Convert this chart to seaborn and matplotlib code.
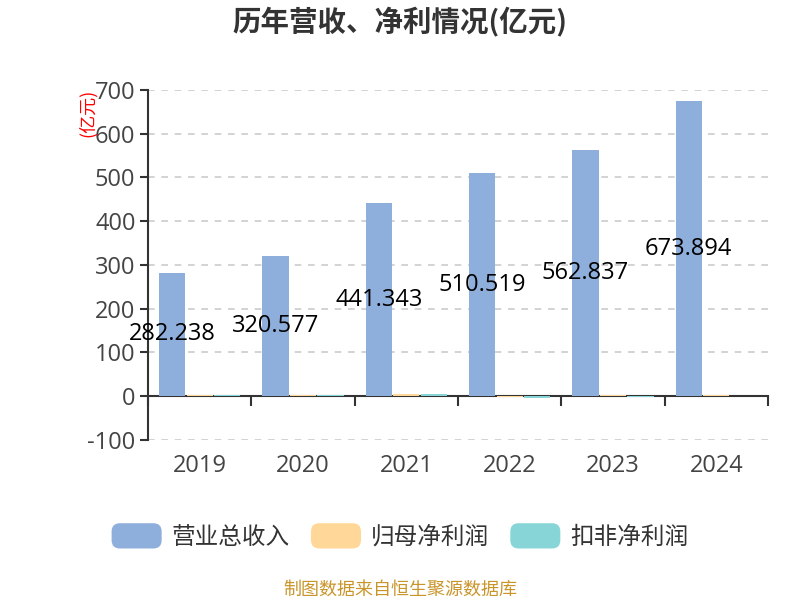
import numpy as np
import pandas as pd
import matplotlib
matplotlib.use("Agg")
import matplotlib.pyplot as plt
import matplotlib.transforms as mtransforms
from matplotlib.patches import Patch, FancyBboxPatch
from matplotlib.legend_handler import HandlerPatch
import seaborn as sns

# --- données (亿元) ---
years = ["2019", "2020", "2021", "2022", "2023", "2024"]
revenue = [282.238, 320.577, 441.343, 510.519, 562.837, 673.894]
net_profit = [3.0, 2.8, 5.0, -2.5, 3.0, 3.2]
net_profit_ded = [2.4, 2.2, 4.5, -3.5, -1.0, 0.4]

series_names = ["营业总收入", "归母净利润", "扣非净利润"]
colors = ["#8eaedb", "#ffd899", "#88d5d8"]

df = pd.DataFrame({
    "year": years * 3,
    "value": revenue + net_profit + net_profit_ded,
    "series": [s for s in series_names for _ in years],
})

sns.set_theme(style="white")
plt.rcParams['font.family'] = ['Open Sans', 'Noto Sans CJK SC', 'DejaVu Sans']
plt.rcParams['axes.unicode_minus'] = False
CJK = ['Noto Sans CJK SC', 'DejaVu Sans']

fig = plt.figure(figsize=(8, 6), dpi=100)
ax = fig.add_axes([0.185, 0.2667, 0.775, 0.5833])

sns.barplot(data=df, x="year", y="value", hue="series", order=years,
            hue_order=series_names, palette=colors, saturation=1,
            width=0.8, gap=0.05, legend=False, ax=ax, zorder=3,
            linewidth=0, edgecolor='none')

ax.set_xlim(-0.5, len(years) - 0.5)
ax.set_ylim(-100, 700)
ax.set_yticks(np.arange(-100, 701, 100))
ax.tick_params(axis='y', labelsize=17, colors='#333333', length=6, width=1.5,
               direction='out', pad=3, left=True)
for lab in ax.get_yticklabels():
    lab.set_color('#444444')

ax.yaxis.grid(True, color='#cccccc', linestyle=(0, (4, 4)), linewidth=1.2)
ax.set_axisbelow(True)

# axes / spines
for s in ['top', 'right']:
    ax.spines[s].set_visible(False)
ax.spines['left'].set_color('#333333')
ax.spines['left'].set_linewidth(1.5)
ax.spines['bottom'].set_position(('data', 0))
ax.spines['bottom'].set_color('#333333')
ax.spines['bottom'].set_linewidth(1.5)
ax.spines['bottom'].set_zorder(2)

# x ticks at category boundaries, labels below the plot
ax.set_xticks(np.arange(-0.5, len(years), 1.0))
ax.set_xticklabels([])
ax.tick_params(axis='x', length=7, width=1.5, colors='#333333', direction='out', bottom=True)
trans = mtransforms.blended_transform_factory(ax.transData, ax.transAxes)
for i, y in enumerate(years):
    ax.text(i, -0.075, y, transform=trans, ha='center', va='center',
            fontsize=17, color='#444444')

ax.set_xlabel("")
ax.set_ylabel("")

# value labels (revenue) at half height over the blue bar
blue_bars = ax.containers[0]
for bar, v in zip(blue_bars, revenue):
    cx = bar.get_x() + bar.get_width() / 2
    ax.text(cx, v / 2, f"{v:.3f}", ha='center', va='center', fontsize=17,
            color='black', zorder=5)

# titles
fig.text(0.5, 0.963, "历年营收、净利情况(亿元)", ha='center', va='center',
         fontsize=20.5, fontweight='bold', color='#333333', family=CJK)
fig.text(0.11, 0.852, "(亿元)", rotation=90, ha='center', va='top',
         fontsize=13, color='red', family=CJK)
fig.text(0.5, 0.017, "制图数据来自恒生聚源数据库", ha='center', va='center',
         fontsize=13, color='#c9952b', family=CJK)


class RoundHandler(HandlerPatch):
    def create_artists(self, legend, orig_handle, xdescent, ydescent,
                       width, height, fontsize, trans):
        p = FancyBboxPatch((-xdescent, -ydescent), width, height,
                           boxstyle='round,pad=0,rounding_size=6',
                           facecolor=orig_handle.get_facecolor(),
                           edgecolor='none', transform=trans)
        return [p]


handles = [Patch(facecolor=c, label=n) for c, n in zip(colors, series_names)]
fig.legend(handles=handles, loc='center', bbox_to_anchor=(0.5, 1 - 536 / 600),
           ncol=3, frameon=False, handlelength=2.12, handleheight=1.27,
           handletextpad=0.42, columnspacing=0.9, labelcolor='#333333',
           prop={'family': CJK, 'size': 17},
           handler_map={Patch: RoundHandler()})

fig.savefig("out.png", dpi=100)
